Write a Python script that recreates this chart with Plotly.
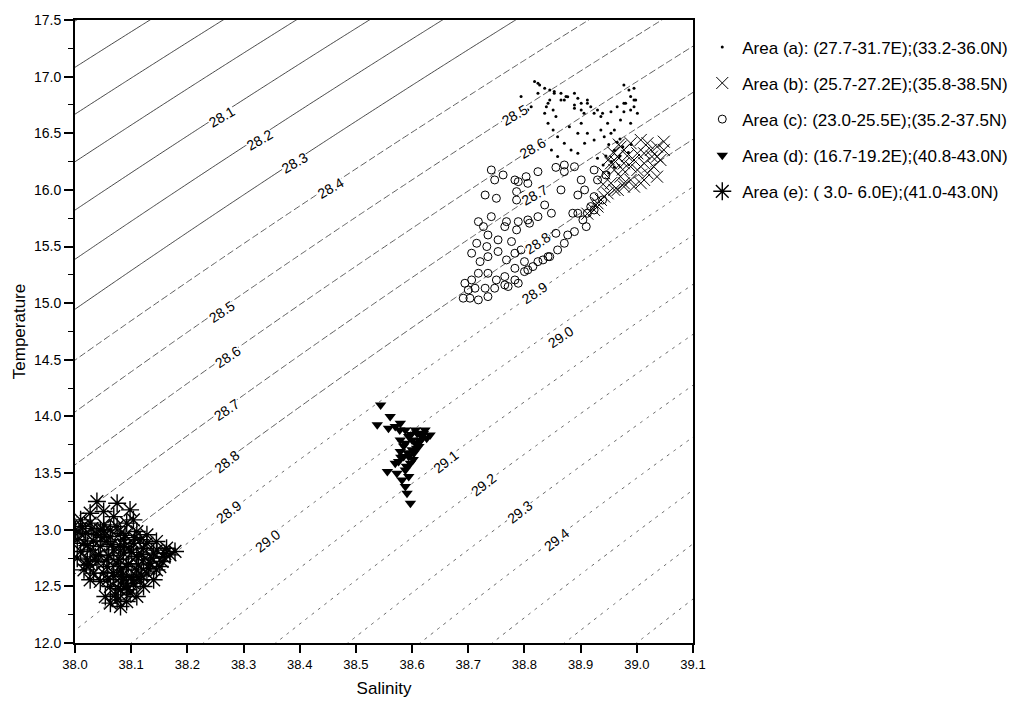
import numpy as np
import plotly.graph_objects as go

# ---------------- data ----------------
# Area (a): dots
a_sal = [38.818, 38.827, 38.836, 38.845, 38.853, 38.865, 38.874, 38.845, 38.839, 38.851,
         38.871, 38.889, 38.895, 38.901, 38.912, 38.918, 38.930, 38.939, 38.906, 38.889,
         38.977, 38.986, 38.995, 38.989, 38.995, 38.980, 38.995, 38.965, 38.954, 38.977,
         39.001, 38.794, 38.806, 38.789,
         38.824, 38.853, 38.865, 38.877, 38.889, 38.901, 38.912, 38.924, 38.936, 38.948,
         38.960, 38.836, 38.842, 38.851, 38.859, 38.871, 38.883, 38.895, 38.912, 38.924,
         38.936, 38.977, 38.989, 38.998, 38.971, 38.989, 38.830, 38.848, 38.859, 38.907,
         38.942, 38.954, 38.856, 38.880, 38.901, 38.895, 38.824, 38.812, 38.842,
         38.950, 38.960, 38.970, 38.955, 38.965, 38.975, 38.945, 38.960, 38.950, 38.985,
         38.940, 38.970, 38.990, 38.930]
a_temp = [16.956, 16.927, 16.897, 16.883, 16.868, 16.853, 16.824, 16.794, 16.735, 16.706,
          16.794, 16.853, 16.809, 16.765, 16.794, 16.735, 16.706, 16.677, 16.677, 16.721,
          16.927, 16.883, 16.897, 16.824, 16.794, 16.765, 16.735, 16.735, 16.691, 16.691,
          16.677, 16.824, 16.706, 16.677,
          16.941, 16.853, 16.794, 16.823, 16.750, 16.706, 16.764, 16.676, 16.647, 16.588,
          16.529, 16.676, 16.588, 16.529, 16.470, 16.411, 16.352, 16.323, 16.500, 16.441,
          16.529, 16.764, 16.706, 16.794, 16.617, 16.588, 16.382, 16.352, 16.294, 16.411,
          16.470, 16.500, 16.647, 16.558, 16.588, 16.500, 16.853, 16.735, 16.764,
          16.400, 16.350, 16.300, 16.250, 16.420, 16.380, 16.300, 16.200, 16.150, 16.330,
          16.220, 16.450, 16.400, 16.280]

# Area (b): crosses
b_sal = [39.019, 39.036, 39.048, 39.027, 39.042, 39.030, 39.013, 39.001, 39.019, 39.036,
         39.007, 38.989, 38.977, 38.966, 38.954, 38.948, 38.936, 38.930, 38.971, 38.989,
         39.001, 38.977, 38.966, 38.954, 38.960, 38.977, 38.995, 39.013, 39.025, 38.942,
         39.007, 38.989, 38.971,
         39.048, 39.036, 39.013, 38.995, 38.977, 38.960, 38.942, 38.930, 38.924, 38.912,
         38.958, 38.968, 38.983, 38.950, 38.962, 38.975, 38.940]
b_temp = [16.412, 16.382, 16.353, 16.294, 16.264, 16.206, 16.235, 16.176, 16.147, 16.117,
          16.059, 16.088, 16.029, 16.000, 16.059, 15.970, 15.912, 15.853, 16.117, 16.206,
          16.323, 16.353, 16.294, 16.235, 16.176, 16.235, 16.264, 16.323, 16.353, 16.147,
          16.441, 16.412, 16.382,
          16.426, 16.294, 16.088, 16.029, 16.058, 16.000, 15.941, 15.882, 15.823, 15.790,
          16.330, 16.400, 16.300, 16.270, 16.250, 16.180, 16.050]

# Area (c): open circles
c_sal = [38.741, 38.762, 38.747, 38.783, 38.803, 38.824, 38.789, 38.806, 38.856, 38.871,
         38.889, 38.871, 38.730, 38.750, 38.786, 38.800, 38.786, 38.830, 38.865, 38.836,
         38.848, 38.824, 38.806, 38.789, 38.768, 38.741, 38.718, 38.727, 38.735, 38.765,
         38.786, 38.809, 38.715, 38.733, 38.753, 38.777, 38.794, 38.806, 38.827, 38.839,
         38.856, 38.871, 38.889, 38.895, 38.904, 38.912, 38.918, 38.886, 38.895, 38.907,
         38.924, 38.930, 38.945, 38.924, 38.901, 38.706, 38.721, 38.735, 38.753, 38.768,
         38.783, 38.800, 38.815, 38.833, 38.845, 38.859, 38.877, 38.706, 38.718, 38.735,
         38.750, 38.765, 38.783, 38.789, 38.800, 38.694, 38.700, 38.712, 38.730, 38.747,
         38.765, 38.691, 38.703, 38.718, 38.735, 38.771, 38.783, 38.806, 38.824, 38.842,
         38.910, 38.924, 38.939]
c_temp = [16.176, 16.132, 16.088, 16.088, 16.117, 16.161, 16.073, 16.058, 16.199, 16.220,
          16.205, 16.161, 15.955, 15.926, 15.985, 15.955, 15.911, 16.014, 16.000, 15.867,
          15.794, 15.764, 15.735, 15.720, 15.720, 15.764, 15.720, 15.676, 15.602, 15.676,
          15.647, 15.706, 15.529, 15.500, 15.559, 15.544, 15.470, 15.514, 15.529, 15.573,
          15.617, 15.529, 15.632, 15.794, 15.735, 15.794, 15.853, 15.794, 15.955, 16.000,
          15.941, 16.088, 16.132, 16.176, 16.088, 15.441, 15.367, 15.411, 15.456, 15.382,
          15.441, 15.367, 15.323, 15.382, 15.411, 15.470, 15.602, 15.205, 15.264, 15.264,
          15.205, 15.235, 15.205, 15.176, 15.279, 15.176, 15.117, 15.132, 15.132, 15.132,
          15.161, 15.044, 15.044, 15.029, 15.058, 15.147, 15.308, 15.294, 15.367, 15.411,
          15.676, 15.823, 15.911]

# Area (d): filled triangles
d_sal = [38.544, 38.561, 38.538, 38.579, 38.558, 38.588, 38.606, 38.623, 38.632, 38.594,
         38.617, 38.588, 38.606, 38.600, 38.579, 38.594, 38.570, 38.556, 38.573, 38.588,
         38.582, 38.588, 38.591, 38.597, 38.609, 38.600, 38.585, 38.597, 38.570,
         38.612, 38.603, 38.591, 38.576, 38.594, 38.579, 38.626, 38.614,
         38.598, 38.620, 38.585, 38.608, 38.592, 38.615, 38.580, 38.602, 38.590, 38.578]
d_temp = [14.102, 13.999, 13.926, 13.940, 13.896, 13.881, 13.881, 13.881, 13.837, 13.822,
          13.822, 13.764, 13.764, 13.705, 13.690, 13.646, 13.587, 13.514, 13.499, 13.528,
          13.440, 13.381, 13.323, 13.234, 13.852, 13.793, 13.646, 13.587, 13.911,
          13.734, 13.676, 13.558, 13.602, 13.470, 13.793, 13.808, 13.778,
          13.840, 13.850, 13.740, 13.720, 13.680, 13.790, 13.640, 13.620, 13.560, 13.880]

# Area (e): asterisks
e_sal = [38.039, 38.075, 38.098, 38.051, 38.010, 38.027, 38.051, 38.075, 38.092, 38.110,
         38.128, 38.145, 38.163, 38.178, 38.157, 38.140, 38.122, 38.104, 38.086, 38.063,
         38.039, 38.019, 38.004, 38.010, 38.027, 38.045, 38.069, 38.086, 38.110, 38.134,
         38.151, 38.128, 38.110, 38.092, 38.075, 38.057, 38.039, 38.022, 38.004, 38.016,
         38.033, 38.051, 38.069, 38.086, 38.104, 38.122, 38.098, 38.081, 38.063, 38.075,
         38.063, 38.081, 38.092, 38.110, 38.027, 38.045, 38.054, 38.140, 38.116, 38.069,
         38.027, 38.104, 38.001, 38.081,
         38.016, 38.057, 38.098, 38.122, 38.169, 38.081, 38.057, 38.027, 38.092, 38.072,
         38.128, 38.045, 38.081, 38.116, 38.145, 38.110, 38.083, 38.042, 38.013, 38.063,
         38.033, 38.048, 38.066, 38.088, 38.101, 38.119, 38.137, 38.155, 38.022, 38.036,
         38.060, 38.078, 38.095, 38.113, 38.131, 38.068, 38.085, 38.100, 38.118, 38.007,
         38.030, 38.052, 38.089, 38.106, 38.077, 38.094, 38.058, 38.020, 38.146, 38.160]
e_temp = [13.249, 13.234, 13.175, 13.161, 13.087, 13.058, 13.043, 13.028, 13.058, 12.984,
          12.955, 12.896, 12.837, 12.808, 12.764, 12.793, 12.837, 12.881, 12.911, 12.940,
          12.955, 12.969, 12.911, 12.808, 12.822, 12.852, 12.822, 12.793, 12.764, 12.705,
          12.675, 12.617, 12.646, 12.675, 12.705, 12.734, 12.719, 12.734, 12.749, 12.646,
          12.617, 12.617, 12.587, 12.558, 12.528, 12.499, 12.440, 12.469, 12.499, 12.381,
          12.352, 12.322, 12.366, 12.411, 12.558, 12.543, 12.410, 12.558, 12.558, 13.116,
          13.146, 13.087, 12.999, 12.852,
          12.881, 12.896, 12.822, 12.734, 12.778, 12.646, 12.675, 12.690, 12.499, 12.425,
          12.881, 12.999, 12.969, 12.911, 12.646, 12.587, 12.587, 12.778, 13.028, 12.999,
          12.900, 12.930, 12.870, 12.850, 12.800, 12.780, 12.750, 12.720, 12.860, 12.760,
          12.770, 12.740, 12.700, 12.690, 12.660, 12.620, 12.600, 12.580, 12.600, 12.980,
          13.010, 12.990, 12.950, 12.930, 12.480, 12.470, 12.560, 12.690, 12.820, 12.790]

legend_names = [
    "Area (a): (27.7-31.7E);(33.2-36.0N)",
    "Area (b): (25.7-27.2E);(35.8-38.5N)",
    "Area (c): (23.0-25.5E);(35.2-37.5N)",
    "Area (d): (16.7-19.2E);(40.8-43.0N)",
    "Area (e): ( 3.0- 6.0E);(41.0-43.0N)",
]

# contour label values and where they sit (salinity, temperature)
label_text = ["28.1", "28.2", "28.3", "28.4",
              "28.5", "28.6", "28.7", "28.8", "28.9", "29.0",
              "28.5", "28.6", "28.7", "28.8", "28.9", "29.0",
              "29.1", "29.2", "29.3", "29.4"]
label_sal = [38.2605, 38.3283, 38.3903, 38.4552,
             38.2605, 38.2717, 38.2694, 38.2694, 38.2735, 38.3425,
             38.7827, 38.8150, 38.8180, 38.8240, 38.8180, 38.8646,
             38.6588, 38.7265, 38.7915, 38.8563]
label_temp = [16.647, 16.441, 16.238, 16.017,
              14.925, 14.528, 14.058, 13.602, 13.158, 12.902,
              16.662, 16.370, 15.955, 15.532, 15.090, 14.702,
              13.602, 13.396, 13.160, 12.910]

x_ticks = [38.0, 38.1, 38.2, 38.3, 38.4, 38.5, 38.6, 38.7, 38.8, 38.9, 39.0, 39.1]


# ---------------- sigma-t (UNESCO EOS-80, p = 0) ----------------
def sigma_t(S, T):
    rho_w = (999.842594 + 6.793952e-2 * T - 9.095290e-3 * T**2 + 1.001685e-4 * T**3
             - 1.120083e-6 * T**4 + 6.536332e-9 * T**5)
    A = 8.24493e-1 - 4.0899e-3 * T + 7.6438e-5 * T**2 - 8.2467e-7 * T**3 + 5.3875e-9 * T**4
    B = -5.72466e-3 + 1.0227e-4 * T - 1.6546e-6 * T**2
    C = 4.8314e-4
    return rho_w + A * S + B * S**1.5 + C * S**2 - 1000.0


sg = np.linspace(37.95, 39.15, 121)
tg = np.linspace(11.9, 17.6, 115)
SS, TT = np.meshgrid(sg, tg)
Z = sigma_t(SS, TT)

FONT = "Arial, Liberation Sans, Helvetica, sans-serif"
fig = go.Figure()

contour_groups = [
    (27.7, 28.31, "solid", "#1a1a1a", 0.8),
    (28.4, 28.81, "7px,3px", "#333333", 0.8),
    (28.9, 29.91, "3px,5px", "#444444", 0.8),
]
for start, end, dash, col, w in contour_groups:
    fig.add_trace(go.Contour(
        x=sg, y=tg, z=Z, autocontour=False,
        contours=dict(start=start, end=end, size=0.1, coloring="none"),
        line=dict(color=col, width=w, dash=dash),
        showscale=False, hoverinfo="skip", showlegend=False))

series = [
    (a_sal, a_temp, dict(symbol="circle", size=3, color="black")),
    (b_sal, b_temp, dict(symbol="x-thin", size=12, color="black",
                         line=dict(color="black", width=1))),
    (c_sal, c_temp, dict(symbol="circle-open", size=8, color="black",
                         line=dict(color="black", width=1))),
    (d_sal, d_temp, dict(symbol="triangle-down", size=10, color="black")),
    (e_sal, e_temp, dict(symbol="asterisk", size=15, color="black",
                         line=dict(color="black", width=1.4))),
]
for i, (sx, ty, mk) in enumerate(series):
    fig.add_trace(go.Scatter(x=sx, y=ty, mode="markers", marker=mk,
                             name=legend_names[i], legendgroup=f"g{i}"))

for txt, s, t in zip(label_text, label_sal, label_temp):
    ang = -30 if t > 15.8 else (-34 if t > 14.0 else -38)
    fig.add_annotation(x=s, y=t, text=txt, showarrow=False, textangle=ang,
                       font=dict(family=FONT, size=14, color="black"),
                       bgcolor="white", borderpad=0)

fig.update_layout(
    width=1027, height=701,
    margin=dict(l=67, r=342, t=12, b=66, autoexpand=False),
    paper_bgcolor="white", plot_bgcolor="white",
    font=dict(family=FONT, color="black"),
    showlegend=True,
    legend=dict(x=1.015, y=0.985, xanchor="left", yanchor="top",
                font=dict(family=FONT, size=17, color="black"),
                tracegroupgap=11, bgcolor="rgba(0,0,0,0)", itemwidth=30),
)
fig.update_xaxes(range=[38.0, 39.1], tickvals=x_ticks,
                 ticktext=[f"{v:.1f}" for v in x_ticks],
                 ticks="outside", ticklen=8, tickwidth=1.5, tickcolor="black",
                 showline=True, linewidth=2, linecolor="black", mirror=True,
                 showgrid=False, zeroline=False,
                 tickfont=dict(family=FONT, size=13, color="black"),
                 title=dict(text="Salinity", font=dict(family=FONT, size=17), standoff=12))
fig.update_yaxes(range=[12.0, 17.5], dtick=0.5, tick0=12.0, tickformat=".1f",
                 ticks="outside", ticklen=9, tickwidth=1.5, tickcolor="black",
                 minor=dict(dtick=0.25, ticks="outside", ticklen=5, tickcolor="black", tickwidth=1),
                 showline=True, linewidth=2, linecolor="black", mirror=True,
                 showgrid=False, zeroline=False,
                 tickfont=dict(family=FONT, size=14, color="black"),
                 title=dict(text="Temperature", font=dict(family=FONT, size=17), standoff=4))

fig.write_html("out.html")
